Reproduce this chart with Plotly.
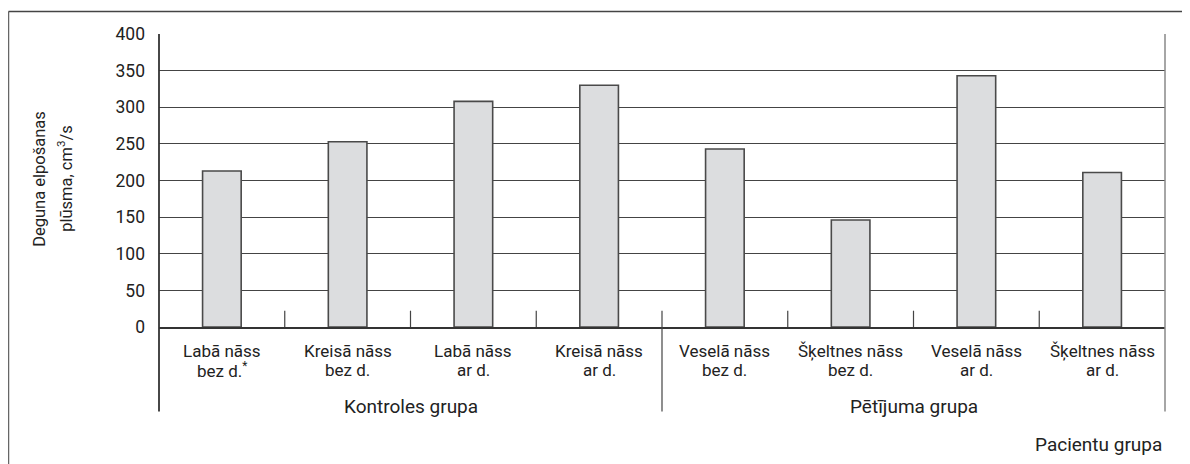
import plotly.graph_objects as go

categories = ["Labā nāss<br>bez d.<sup>*</sup>", "Kreisā nāss<br>bez d.", "Labā nāss<br>ar d.", "Kreisā nāss<br>ar d.",
              "Veselā nāss<br>bez d.", "Šķeltnes nāss<br>bez d.", "Veselā nāss<br>ar d.", "Šķeltnes nāss<br>ar d."]
values = [213, 253, 308, 330, 243, 146, 343, 211]
groups = ["Kontroles grupa", "Pētījuma grupa"]
group_sizes = [4, 4]
y_ticks = [0, 50, 100, 150, 200, 250, 300, 350, 400]
y_title = ["Deguna elpošanas", "plūsma, cm<sup>3</sup>/s"]
x_title = "Pacientu grupa"

FONT = "Roboto, 'Liberation Sans', Arial, sans-serif"
TXT = "#222222"
LINE = "#444444"

# browser body margin offset (8px)
OFF = 8
W, H = 1190 - OFF, 464 - OFF
# plot area in reference-pixel coordinates
RX0, RX1, RY0, RY1 = 159, 1165, 34, 327.3
L, R, T, B = RX0 - OFF, W - (RX1 - OFF), RY0 - OFF, H - (RY1 - OFF)
pw, ph = RX1 - RX0, RY1 - RY0

def px(rx):
    return (rx - RX0) / pw

def py(ry):
    return (RY1 - ry) / ph

x_idx = list(range(len(categories)))

fig = go.Figure()
fig.add_trace(go.Bar(
    x=x_idx, y=values,
    marker=dict(color="#dcdddf", line=dict(color="#4a4a4a", width=1.6)),
    width=0.307, hoverinfo="skip", showlegend=False,
))

shapes = []
bounds = [i + 0.5 for i in range(len(categories) - 1)]
group_edges = []
acc = 0
for s in group_sizes[:-1]:
    acc += s
    group_edges.append(acc - 0.5)
for b in bounds:
    if b in group_edges:
        shapes.append(dict(type="line", xref="x", yref="paper", x0=b, x1=b,
                           y0=py(311), y1=py(412), line=dict(color=LINE, width=1.2)))
    else:
        shapes.append(dict(type="line", xref="x", yref="paper", x0=b, x1=b,
                           y0=py(311), y1=0, line=dict(color=LINE, width=1.2)))
shapes.append(dict(type="line", xref="paper", yref="paper", x0=0, x1=0, y0=1, y1=py(412),
                   line=dict(color="#333333", width=1.8)))
shapes.append(dict(type="line", xref="paper", yref="paper", x0=1, x1=1, y0=1, y1=py(412),
                   line=dict(color="#888888", width=1.5)))
# outer frame (left and top edges visible)
shapes.append(dict(type="line", xref="paper", yref="paper", x0=px(8.5), x1=px(8.5),
                   y0=py(11.5), y1=py(500), line=dict(color="#666666", width=1.5)))
shapes.append(dict(type="line", xref="paper", yref="paper", x0=px(8.5), x1=px(1250),
                   y0=py(11.5), y1=py(11.5), line=dict(color="#444444", width=1.5)))

annotations = []
for i, c in enumerate(categories):
    lines = c.split("<br>")
    for j, t in enumerate(lines):
        annotations.append(dict(x=i, y=py(351 + 19 * j), xref="x", yref="paper", text=t, showarrow=False,
                                font=dict(family=FONT, size=17, color=TXT), align="center",
                                xanchor="center", yanchor="middle"))
start = 0
for g, s in zip(groups, group_sizes):
    center = start + (s - 1) / 2
    annotations.append(dict(x=center, y=py(407), xref="x", yref="paper", text=g, showarrow=False,
                            font=dict(family=FONT, size=19, color=TXT), xanchor="center", yanchor="middle"))
    start += s
annotations.append(dict(x=px(1164), y=py(445), xref="paper", yref="paper", text=x_title, showarrow=False,
                        font=dict(family=FONT, size=19, color=TXT), xanchor="right", yanchor="middle"))
for k, t in enumerate(y_title):
    annotations.append(dict(x=px(40 + 25 * k), y=py(179), xref="paper", yref="paper",
                            text=t, showarrow=False, textangle=-90,
                            font=dict(family=FONT, size=16.5, color=TXT), xanchor="center", yanchor="middle"))

fig.update_layout(
    width=W, height=H,
    margin=dict(l=L, r=R, t=T, b=B, autoexpand=False),
    paper_bgcolor="white", plot_bgcolor="white",
    shapes=shapes, annotations=annotations,
    bargap=0.693,
    xaxis=dict(range=[-0.5, len(categories) - 0.5], showticklabels=False, showgrid=False,
               zeroline=False, showline=True, linecolor="#333333", linewidth=1.8, ticks="",
               fixedrange=True),
    yaxis=dict(range=[0, 400], tickvals=y_ticks, showgrid=True, gridcolor="#444444", gridwidth=1.2,
               zeroline=False, showline=False, ticks="", ticklabelstandoff=13,
               tickfont=dict(family=FONT, size=17.5, color=TXT), fixedrange=True),
)

fig.write_html("out.html")
